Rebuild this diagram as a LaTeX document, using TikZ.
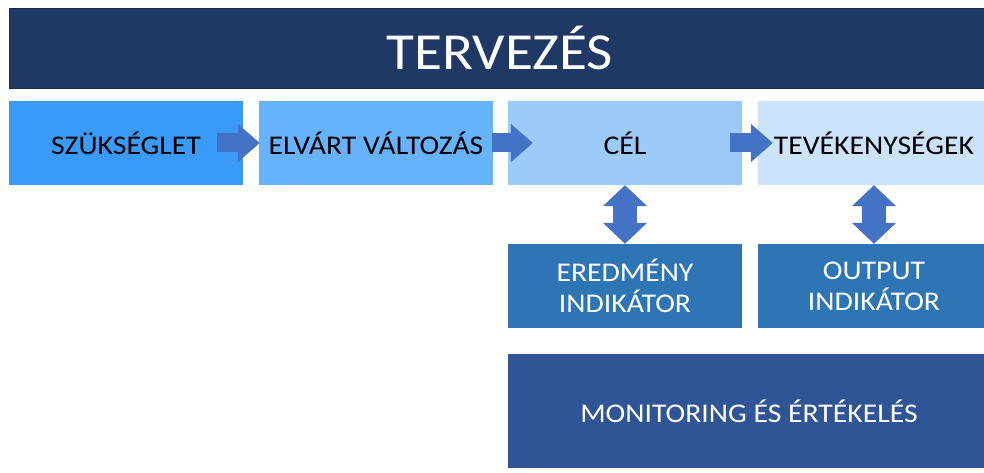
\documentclass[tikz,border=0pt]{standalone}
\usepackage{fontspec}
\setmainfont{Carlito}[FakeStretch=1.1]
\usetikzlibrary{arrows.meta}

\definecolor{navy}{HTML}{203864}
\definecolor{need}{HTML}{3A9AF8}
\definecolor{change}{HTML}{66B2FB}
\definecolor{goal}{HTML}{9BCBF8}
\definecolor{tasks}{HTML}{CCE4FB}
\definecolor{indic}{HTML}{2E75B6}
\definecolor{monit}{HTML}{2F5597}
\definecolor{arrowblue}{HTML}{4472C4}

\tikzset{>=latex,
  box/.style={minimum width=234pt,minimum height=84pt,inner sep=0pt,align=center,
    font=\fontsize{27}{31}\selectfont},
  rowbox/.style={box,fill=#1},
  lowbox/.style={box,fill=#1,text=white},
  flow/.style={arrowblue,line width=19pt,-{Triangle[length=22pt,width=37pt]}},
  twoway/.style={arrowblue,line width=24pt,{Triangle[length=21pt,width=43pt]}-{Triangle[length=21pt,width=43pt]}}
}

\begin{document}
\begin{tikzpicture}[x=1pt,y=-1pt]
  \useasboundingbox (0,0) rectangle (984,473);
  % header
  \node[fill=navy,draw=navy!80!black,text=white,minimum width=982pt,minimum height=80pt,
    font=\fontsize{52}{60}\selectfont] (plan) at (500,48) {TERVEZÉS};
  % first row
  \node[rowbox=need] (need) at (126,143) {SZÜKSÉGLET};
  \node[rowbox=change] (change) at (376,143) {ELVÁRT VÁLTOZÁS};
  \node[rowbox=goal] (goal) at (625,143) {CÉL};
  \node[rowbox=tasks,minimum width=232pt] (tasks) at (874,143) {TEVÉKENYSÉGEK};
  % indicators
  \node[lowbox=indic] (resind) at (625,286) {EREDMÉNY\\INDIKÁTOR};
  \node[lowbox=indic,minimum width=232pt] (outind) at (874,286) {OUTPUT\\INDIKÁTOR};
  \node[lowbox=monit,minimum width=482pt,minimum height=114pt] (monitor) at (749,411)
    {MONITORING ÉS ÉRTÉKELÉS};
  % arrows
  \draw[flow] ([xshift=-26pt]need.east) -- ([xshift=1pt]change.west);
  \draw[flow] ([xshift=-1pt]change.east) -- ([xshift=25pt]goal.west);
  \draw[flow] ([xshift=-12pt]goal.east) -- ([xshift=15pt]tasks.west);
  \draw[twoway] (goal.south) -- (resind.north);
  \draw[twoway] (tasks.south) -- (outind.north);
\end{tikzpicture}
\end{document}
